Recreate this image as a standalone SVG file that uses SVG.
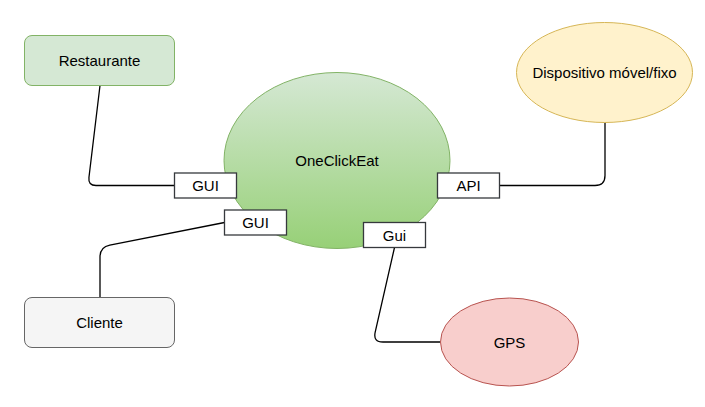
<svg xmlns="http://www.w3.org/2000/svg" width="705" height="407" viewBox="0 0 705 407">
<defs>
<linearGradient id="g" x1="0" y1="0" x2="0" y2="1">
<stop offset="0" stop-color="#d5e8d4"/>
<stop offset="1" stop-color="#97d077"/>
</linearGradient>
<style>
text{font-family:"Liberation Sans",Arial,sans-serif;font-size:15px;fill:#000;text-anchor:middle;dominant-baseline:central}
.port{fill:#fff;stroke:#36393d;stroke-width:1.3}
.conn{fill:none;stroke:#000;stroke-width:1.3}
</style>
</defs>
<rect width="705" height="407" fill="#fff"/>
<g id="connectors">
<path class="conn" d="M100 85.5 L88.95 177.5 Q88 185.5 96 185.5 L174.5 185.5"/>
<path class="conn" d="M100 297.5 L100 257 Q100 247 109.8 245.1 L224.5 222.5"/>
<path class="conn" d="M394.5 247.5 L375.2 332.2 Q373 342 383 342 L440.5 342"/>
<path class="conn" d="M499.5 185.5 L595 185.5 Q605 185.5 605 175.5 L605 122.5"/>
</g>
<g id="oneclickeat">
<ellipse cx="337" cy="160.5" rx="113" ry="88" fill="url(#g)" stroke="#82b366"/>
<text x="337" y="160.5">OneClickEat</text>
</g>
<g id="restaurante">
<rect x="24.5" y="35.5" width="150" height="50" rx="7.5" fill="#d5e8d4" stroke="#82b366"/>
<text x="99.5" y="60.5">Restaurante</text>
</g>
<g id="cliente">
<rect x="24.5" y="297.5" width="150" height="50" rx="7.5" fill="#f5f5f5" stroke="#666666"/>
<text x="99.5" y="322.5">Cliente</text>
</g>
<g id="dispositivo">
<ellipse cx="604.5" cy="72.5" rx="88" ry="50" fill="#fff2cc" stroke="#d6b656"/>
<text x="604.5" y="72.5">Dispositivo móvel/fixo</text>
</g>
<g id="gps">
<ellipse cx="509.5" cy="342" rx="69" ry="44" fill="#f8cecc" stroke="#b85450"/>
<text x="509.5" y="342">GPS</text>
</g>
<g id="gui1">
<rect class="port" x="174.5" y="173" width="62" height="25"/>
<text x="205.5" y="185.5">GUI</text>
</g>
<g id="gui2">
<rect class="port" x="224.5" y="210" width="62" height="25"/>
<text x="255.5" y="222.5">GUI</text>
</g>
<g id="api">
<rect class="port" x="437.5" y="173" width="62" height="25"/>
<text x="468.5" y="185.5">API</text>
</g>
<g id="gui3">
<rect class="port" x="363.5" y="222.5" width="62" height="25"/>
<text x="394.5" y="235">Gui</text>
</g>
</svg>
